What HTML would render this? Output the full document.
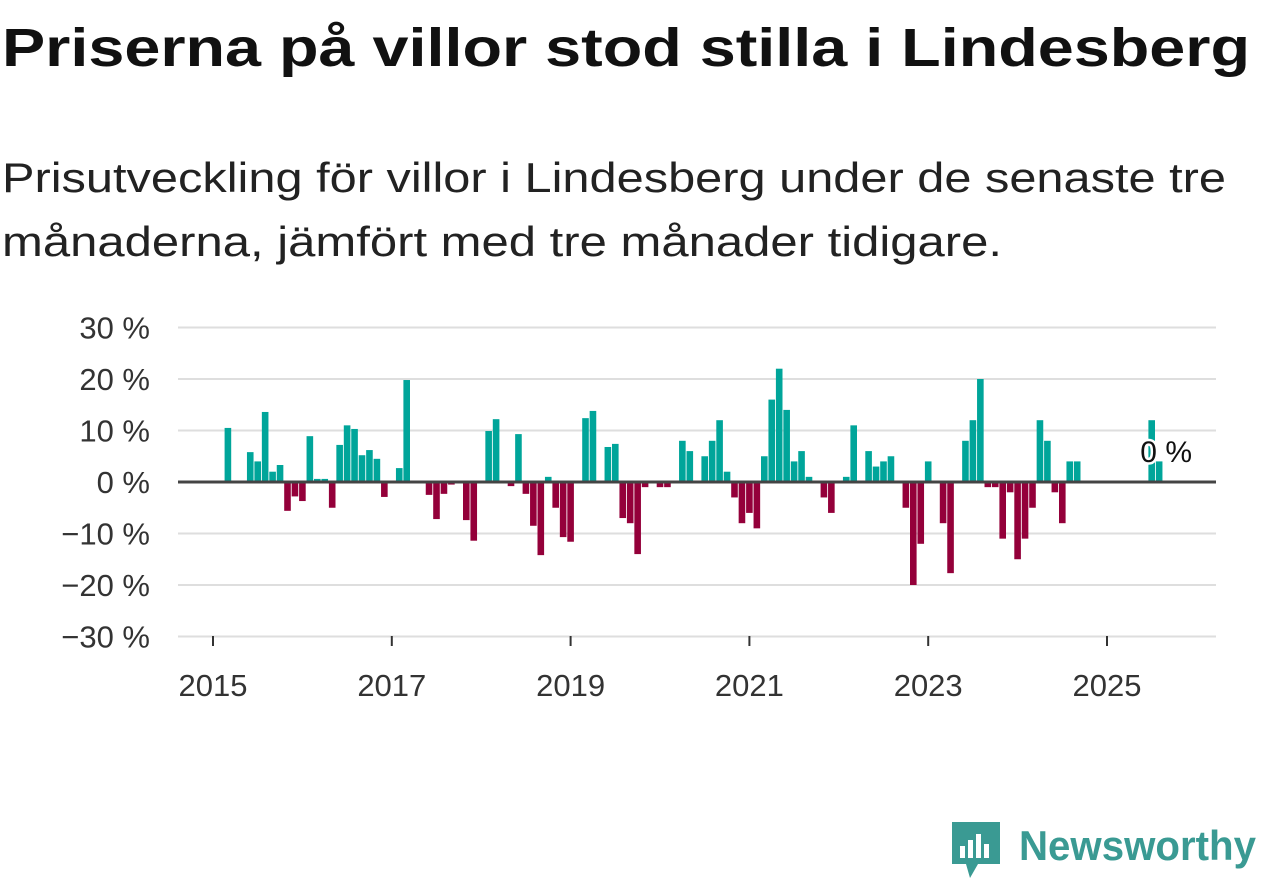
<!DOCTYPE html>
<html><head><meta charset="utf-8"><style>
body{margin:0;background:#fff;}
svg{display:block;font-family:"Liberation Sans","DejaVu Sans",sans-serif;}
</style></head><body>
<svg id="chart" width="1262" height="879" viewBox="0 0 1262 879">
<text x="2" y="66" font-size="54" font-weight="bold" fill="#111" textLength="1248" lengthAdjust="spacingAndGlyphs">Priserna på villor stod stilla i Lindesberg</text>
<text x="2" y="192" font-size="42" fill="#222" textLength="1224" lengthAdjust="spacingAndGlyphs">Prisutveckling för villor i Lindesberg under de senaste tre</text>
<text x="2" y="256" font-size="42" fill="#222" textLength="1000" lengthAdjust="spacingAndGlyphs">månaderna, jämfört med tre månader tidigare.</text>
<g id="grid"></g><g id="bars"></g><g id="axes"></g>
<g>
<path d="M952 822 h48 v42 h-22 l-8 14 l-4 -14 h-14 z" fill="#3a9a93"/>
<rect x="960" y="846" width="5" height="12" fill="#fff"/><rect x="968" y="840" width="5" height="18" fill="#fff"/><rect x="976" y="834" width="5" height="24" fill="#fff"/><rect x="984" y="844" width="5" height="14" fill="#fff"/>
<text x="1019" y="860" font-size="42" font-weight="bold" fill="#3a9a93" textLength="237" lengthAdjust="spacingAndGlyphs">Newsworthy</text>
</g>
</svg>
<script>
const monthIndex=[2,5,6,7,8,9,10,11,12,13,14,15,16,17,18,19,20,21,22,23,25,26,29,30,31,32,34,35,37,38,40,41,42,43,44,45,46,47,48,50,51,53,54,55,56,57,58,60,61,63,64,66,67,68,69,70,71,72,73,74,75,76,77,78,79,80,82,83,85,86,88,89,90,91,93,94,95,96,98,99,101,102,103,104,105,106,107,108,109,110,111,112,113,114,115,116,126,127];
const values=[10.5,5.8,4,13.6,2,3.3,-5.6,-2.8,-3.7,8.9,0.6,0.6,-5,7.2,11,10.3,5.2,6.2,4.5,-2.9,2.7,19.8,-2.5,-7.2,-2.3,-0.5,-7.4,-11.4,9.9,12.2,-0.8,9.3,-2.3,-8.5,-14.2,1,-5,-10.7,-11.6,12.4,13.8,6.8,7.4,-7,-8,-14,-1,-1,-1,8,6,5,8,12,2,-3,-8,-6,-9,5,16,22,14,4,6,1,-3,-6,1,11,6,3,4,5,-5,-20,-12,4,-8,-17.7,8,12,20,-1,-1,-11,-2,-15,-11,-5,12,8,-2,-8,4,4,12,4];
const yTicks=[30,20,10,0,-10,-20,-30];
const yTickLabels=["30 %","20 %","10 %","0 %","−10 %","−20 %","−30 %"];
const xTickYears=[2015,2017,2019,2021,2023,2025];
const NS="http://www.w3.org/2000/svg";
const x0=213,pxPerMonth=7.45,y0=482,pxPerPct=5.15;
const xs=m=>x0+m*pxPerMonth;
const ys=v=>y0-v*pxPerPct;
function mk(tag,attrs,parent){const e=document.createElementNS(NS,tag);for(const k in attrs)e.setAttribute(k,attrs[k]);document.getElementById(parent).appendChild(e);return e;}
yTicks.forEach((t,i)=>{
 if(t!==0){const l=mk('line',{x1:178,x2:1216,y1:ys(t),y2:ys(t),stroke:'#dedede','stroke-width':2},'grid');
 
 }
 const tx=mk('text',{x:150,y:ys(t)+11,'text-anchor':'end','font-size':31,fill:'#333'},'axes');
 tx.textContent=yTickLabels[i];
 
 
});
monthIndex.forEach((m,i)=>{
 const v=values[i];const cx=xs(m);
 const r=mk('rect',{x:cx-3.3,y:Math.min(ys(v),y0),width:6.6,height:Math.abs(v*pxPerPct),fill:v>=0?'#00a59a':'#94003a'},'bars');
 
 
});
const z=mk('line',{x1:178,x2:1216,y1:y0,y2:y0,stroke:'#444','stroke-width':3},'axes');


xTickYears.forEach(yr=>{
 const x=xs((yr-2015)*12);
 const tk=mk('line',{x1:x,x2:x,y1:636,y2:646,stroke:'#333','stroke-width':2},'axes');
 
 
 const tx=mk('text',{x:x,y:696,'text-anchor':'middle','font-size':31,fill:'#333'},'axes');
 tx.textContent=String(yr);
 
 
});
const lastM=monthIndex[monthIndex.length-1];
const lbl=mk('text',{x:xs(lastM)+7,y:462,'text-anchor':'middle','font-size':30,fill:'#111',stroke:'#fff','stroke-width':5,'paint-order':'stroke'},'axes');
lbl.textContent='0 %';


</script>
</body></html>
